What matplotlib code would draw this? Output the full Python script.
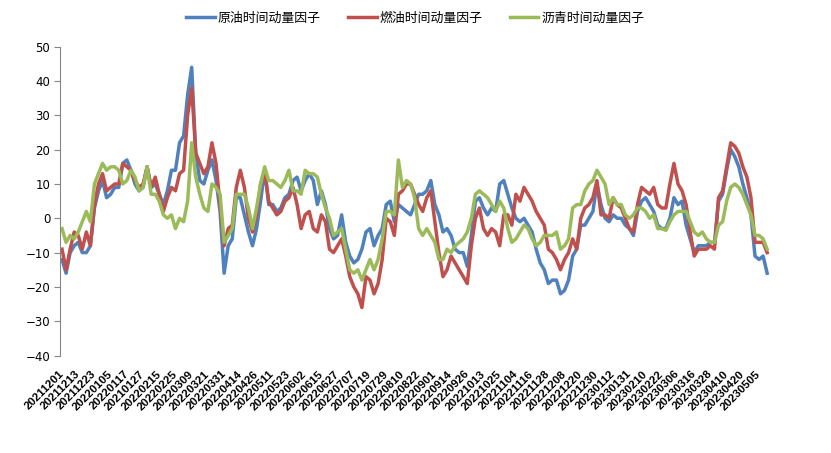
import matplotlib
matplotlib.use("Agg")
import matplotlib.pyplot as plt

# series sampled every 2 trading days, 20211201 .. 2023-05
crude = [-12, -16, -10, -8, -7, -10, -10, -8, 3, 8,
         11, 6, 7, 9, 9, 16, 17, 14, 10, 8,
         9, 15, 9, 10, 7, 4, 8, 14, 14, 22,
         24, 36, 44, 19, 11, 10, 14, 17, 11, 2,
         -16, -8, -6, 6, 6, 1, -4, -8, -3, 5,
         14, 4, 4, 2, 3, 6, 7, 11, 12,
         8, 11, 13, 11, 4, 8, 4, -3, -6, -5,
         1, -7, -11, -13, -12, -9, -4, -3, -8, -5,
         -3, 4, 5, -1, 4, 3, 2, 1, 4, 7,
         7, 8, 11, 4, 1, -4, -3, -5, -9, -10,
         -10, -14, -5, 5, 6, 3, 1, 3, 2, 10,
         11, 7, 3, 0, -1, 0, -2, -4, -9, -13,
         -15, -19, -18, -18, -22, -21, -18, -11, -9, -2,
         -2, 0, 2, 10, 4, 0, -1, 1, 0, 0,
         -2, -3, -5, 2, 5, 6, 4, 2, -2, -3,
         -3, 0, 6, 4, 5, -2, -6, -10, -8, -8,
         -8, -7, -7, 5, 7, 14, 20, 18, 15, 10,
         6, 1, -11, -12, -11, -16]

fuel = [-9, -15, -9, -4, -5, -9, -4, -8, 4, 10,
        13, 8, 9, 10, 10, 16, 15, 14, 11, 9,
        10, 15, 9, 12, 7, 2, 6, 9, 8, 13,
        14, 30, 38, 19, 16, 13, 15, 22, 16, 4,
        -8, -3, -2, 9, 14, 9, 0, -4, 1, 10,
        14, 5, 3, 1, 2, 5, 6, 9, 4,
        -3, 1, 2, -3, -4, 1, -1, -9, -10, -8,
        -6, -11, -17, -20, -22, -26, -17, -18, -22, -19,
        -12, 0, -1, -5, 7, 8, 10, 10, 7, 4,
        2, 6, 8, -1, -10, -17, -15, -11, -13, -15,
        -17, -19, -8, 0, 3, -3, -5, -3, -4, -8,
        1, 1, -2, 7, 5, 9, 7, 5, 2, 0,
        -2, -9, -10, -12, -15, -12, -10, -6, -9, 0,
        3, 4, 6, 11, 1, 1, 0, 6, 4, 3,
        0, -3, -4, 4, 9, 8, 7, 9, 4, 3,
        3, 10, 16, 10, 8, 4, -4, -11, -9, -9,
        -9, -8, -9, 6, 8, 15, 22, 21, 19, 15,
        12, 6, -7, -7, -7, -10]

bitumen = [-3, -7, -5, -6, -4, -1, 2, -1, 10, 13,
           16, 14, 15, 15, 14, 10, 11, 14, 12, 8,
           9, 15, 7, 7, 5, 1, 0, 1, -3, 0,
           -1, 5, 22, 12, 7, 3, 2, 10, 9, 7,
           -7, -5, -3, 7, 7, 7, 3, -3, 3, 10,
           15, 11, 11, 10, 9, 11, 14, 8, 8,
           7, 14, 13, 13, 12, 7, 3, 0, -5, -4,
           -3, -9, -15, -16, -15, -18, -15, -12, -15, -12,
           -6, 2, 2, 1, 17, 9, 11, 10, 6, -3,
           -5, -3, -5, -7, -12, -12, -9, -10, -8, -7,
           -6, -4, 0, 7, 8, 7, 6, 4, 2, 5,
           3, -3, -7, -6, -4, -2, -3, -6, -8, -7,
           -5, -5, -5, -4, -9, -8, -6, 3, 4, 4,
           8, 10, 11, 14, 12, 10, 4, 6, 4, 4,
           1, 0, 1, 3, 3, 2, 0, 1, -3, -3,
           -3.5, -1, 1, 2, 2, 2, -1, -4, -5, -4,
           -6, -7, -7, -2, -1, 5, 9, 10, 9, 7,
           4, 1, -5, -5, -6, -9]

date_labels = ["20211201", "20211213", "20211223", "20220105", "20220117",
               "20210127", "20220215", "20220225", "20220309", "20220321",
               "20220331", "20220414", "20220426", "20220511", "20220523",
               "20220602", "20220615", "20220627", "20220707", "20220719",
               "20220729", "20220810", "20220822", "20220901", "20220914",
               "20220926", "20221013", "20221025", "20221104", "20221116",
               "20221128", "20221208", "20221220", "20221230", "20230112",
               "20230131", "20230210", "20230222", "20230306", "20230316",
               "20230328", "20230410", "20230420", "20230505"]
series_names = ["原油时间动量因子", "燃油时间动量因子", "沥青时间动量因子"]
label_step = 4

plt.rcParams["font.family"] = ["Noto Sans CJK SC", "DejaVu Sans"]

fig = plt.figure(figsize=(8.31, 4.53), dpi=100)
ax = fig.add_axes([0.0722, 0.215, 0.8544, 0.682])

colors = ["#4F81BD", "#C0504D", "#9BBB59"]
x = list(range(len(crude)))
for ys, name, c in zip([crude, fuel, bitumen], series_names, colors):
    ax.plot(x, ys, color=c, lw=2.5, label=name, solid_joinstyle="round")

ax.set_ylim(-40, 50)
ax.set_yticks(range(-40, 51, 10))
ax.set_xlim(-0.5, len(crude) - 0.3)

ax.set_xticks(range(0, label_step * len(date_labels), label_step))
ax.set_xticklabels(date_labels, rotation=45, ha="right", va="center",
                   rotation_mode="anchor", fontsize=8.2, fontweight="bold",
                   family="Liberation Sans")
ax.tick_params(axis="x", length=0, pad=12)
ax.tick_params(axis="y", direction="out", length=4, color="#868686",
               labelsize=8.5, pad=3)
for lab in ax.get_yticklabels():
    lab.set_family("DejaVu Sans")

for s in ["top", "right", "bottom"]:
    ax.spines[s].set_visible(False)
ax.spines["left"].set_color("#868686")

fig.legend(loc="center", bbox_to_anchor=(0.5, 0.96), ncol=3, frameon=False,
           fontsize=9.3, handlelength=2.2, handletextpad=0.25,
           columnspacing=2.1)

fig.savefig("out.png", dpi=100)
